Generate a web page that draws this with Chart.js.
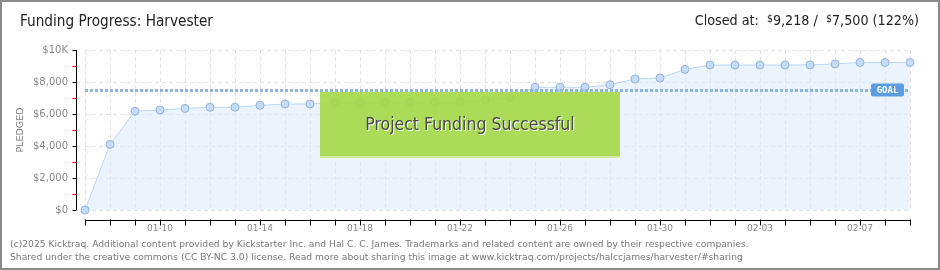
<!DOCTYPE html>
<html>
<head>
<meta charset="utf-8">
<script src="https://cdn.jsdelivr.net/npm/chart.js@4/dist/chart.umd.min.js"></script>
<style>
  html, body { margin: 0; padding: 0; background: #fff; }
  #wrap { position: relative; width: 940px; height: 270px; overflow: hidden; }
  #chart { position: absolute; left: 0; top: 0; }
  #frame { position: absolute; left: 0; top: 0; width: 940px; height: 270px; box-sizing: border-box; border: 2px solid #8a8a8a; pointer-events: none; }
  .title { position: absolute; left: 20px; top: 12px; font: 15.2px "Liberation Sans Narrow", "DejaVu Sans Condensed", sans-serif; color: #222; }
  .closed { position: absolute; right: 21px; top: 12px; font: 14.2px "Liberation Sans Narrow", "DejaVu Sans Condensed", sans-serif; color: #222; white-space: pre; }
  .closed .cur { font-size: 10.5px; vertical-align: 3px; }
  .success { position: absolute; left: 320px; top: 92px; width: 300px; height: 64px; background: rgba(164, 216, 70, 0.9); border-bottom: 2px solid #cfe8a3;
             font: 17.5px "Liberation Sans Narrow", "DejaVu Sans Condensed", sans-serif; color: #4a4a4a; text-shadow: 1px 1px 0 #fff;
             display: flex; align-items: center; justify-content: center; }
  .footer { position: absolute; left: 10px; top: 237px; font: 9.2px "DejaVu Sans", sans-serif; color: #777; line-height: 13px; white-space: nowrap; }
</style>
</head>
<body>
<div id="wrap">
  <canvas id="chart" width="940" height="270"></canvas>
  <div class="title">Funding Progress: Harvester</div>
  <div class="closed">Closed at:  <span class="cur">$</span>9,218 /  <span class="cur">$</span>7,500 (122%)</div>
  <div class="success">Project Funding Successful</div>
  <div class="footer">(c)2025 Kicktraq. Additional content provided by Kickstarter Inc. and Hal C. C. James. Trademarks and related content are owned by their respective companies.<br>Shared under the creative commons (CC BY-NC 3.0) license. Read more about sharing this image at www.kicktraq.com/projects/halccjames/harvester/#sharing</div>
  <div id="frame"></div>
</div>
<script>
// Daily snapshots (MM-DD)
const days = [
  "01-07", "01-08", "01-09", "01-10", "01-11", "01-12", "01-13", "01-14", "01-15", "01-16",
  "01-17", "01-18", "01-19", "01-20", "01-21", "01-22", "01-23", "01-24", "01-25", "01-26",
  "01-27", "01-28", "01-29", "01-30", "01-31", "02-01", "02-02", "02-03", "02-04", "02-05",
  "02-06", "02-07", "02-08", "02-09"
];

// Total pledged in USD
const pledged = [
  0, 4100, 6170, 6250, 6350, 6420, 6420, 6540, 6625, 6625,
  6730, 6730, 6730, 6730, 6730, 6730, 6875, 7040, 7670, 7670,
  7670, 7830, 8190, 8250, 8790, 9060, 9060, 9060, 9060, 9070,
  9130, 9218, 9218, 9218
];

const goal = 7500;

// y axis labels, every $2,000
const yTickValues = [0, 2000, 4000, 6000, 8000, 10000];
const yTickLabels = ["$0", "$2,000", "$4,000", "$6,000", "$8,000", "$10K"];

// Axis lines + ticks drawn a little away from the plot, plus the goal line
const kicktraqAxes = {
  id: "kicktraqAxes",
  afterDatasetsDraw(chart) {
    const { ctx, chartArea, scales } = chart;
    const y = scales.y;

    // goal line
    const gy = Math.round(y.getPixelForValue(goal)) + 0.5;
    ctx.save();
    ctx.strokeStyle = "#8fb5df";
    ctx.lineWidth = 3;
    ctx.setLineDash([3, 2]);
    ctx.beginPath();
    ctx.moveTo(chartArea.left, gy);
    ctx.lineTo(chartArea.right, gy);
    ctx.stroke();
    ctx.restore();

    // GOAL tag
    ctx.save();
    const tw = 33, th = 13;
    const tx = chartArea.right - 6 - tw, ty = gy - 7;
    ctx.fillStyle = "#5b9de0";
    ctx.beginPath();
    ctx.roundRect(tx, ty, tw, th, 2);
    ctx.fill();
    ctx.fillStyle = "#fff";
    ctx.font = "bold 9px 'DejaVu Sans Mono', monospace";
    ctx.textAlign = "center";
    ctx.textBaseline = "middle";
    ctx.fillText("GOAL", tx + tw / 2, ty + th / 2 + 0.5);
    ctx.restore();
  },
  afterDraw(chart) {
    const { ctx, chartArea, scales } = chart;
    const x = scales.x, y = scales.y;
    ctx.save();
    ctx.lineWidth = 1;

    // y axis
    const ax = chartArea.left - 8.5;
    ctx.strokeStyle = "#000";
    ctx.beginPath();
    ctx.moveTo(ax, chartArea.top);
    ctx.lineTo(ax, chartArea.bottom);
    ctx.stroke();
    y.ticks.forEach((t) => {
      const py = Math.round(y.getPixelForValue(t.value)) + 0.5;
      ctx.strokeStyle = t.value % 2000 === 0 ? "#000" : "#e00000";
      ctx.beginPath();
      ctx.moveTo(ax - 4, py);
      ctx.lineTo(ax, py);
      ctx.stroke();
    });

    // x axis
    const ay = chartArea.bottom + 10.5;
    ctx.strokeStyle = "#000";
    ctx.beginPath();
    ctx.moveTo(chartArea.left, ay);
    ctx.lineTo(chartArea.right, ay);
    ctx.stroke();
    days.forEach((d, i) => {
      const px = Math.round(x.getPixelForValue(i)) + 0.5;
      ctx.beginPath();
      ctx.moveTo(px, ay - 1);
      ctx.lineTo(px, ay + 5);
      ctx.stroke();
    });
    ctx.restore();
  }
};

new Chart(document.getElementById("chart"), {
  type: "line",
  data: {
    labels: days,
    datasets: [
      {
        label: "Pledged",
        data: pledged,
        borderColor: "#bad6f3",
        borderWidth: 1,
        backgroundColor: "rgba(222, 236, 250, 0.6)",
        fill: "origin",
        tension: 0,
        clip: false,
        pointRadius: 4,
        pointBackgroundColor: "#c4dcf7",
        pointBorderColor: "#94b3d3",
        pointBorderWidth: 1,
      },
    ],
  },
  options: {
    responsive: false,
    animation: false,
    events: [],
    layout: { padding: { top: 50, right: 30, left: 0, bottom: 0 } },
    plugins: {
      legend: { display: false },
      tooltip: { enabled: false },
    },
    scales: {
      x: {
        offset: false,
        afterFit(scale) { scale.height = 60; },
        grid: { color: "#e2e2e2", drawTicks: false },
        border: { display: false, dash: [4, 3] },
        ticks: {
          autoSkip: false,
          maxRotation: 0,
          padding: 13,
          color: "#888",
          font: { family: "DejaVu Sans", size: 9 },
          callback: (v, i) => (i % 4 === 3 ? days[i] : ""),
        },
      },
      y: {
        min: 0,
        max: 10000,
        afterFit(scale) { scale.width = 85; },
        grid: {
          drawTicks: false,
          color: (c) => (c.tick && c.tick.value % 2000 === 0 ? "#e2e2e2" : "rgba(0,0,0,0)"),
        },
        border: { display: false, dash: [4, 3] },
        title: {
          display: true,
          text: "PLEDGED",
          color: "#777",
          font: { family: "DejaVu Sans", size: 9.5 },
          padding: { top: 15, bottom: 0 },
        },
        ticks: {
          stepSize: 1000,
          padding: 17,
          color: "#888",
          font: { family: "DejaVu Sans", size: 10 },
          callback: (v) => {
            const k = yTickValues.indexOf(v);
            return k >= 0 ? yTickLabels[k] : "";
          },
        },
      },
    },
  },
  plugins: [kicktraqAxes],
});
</script>
</body>
</html>
